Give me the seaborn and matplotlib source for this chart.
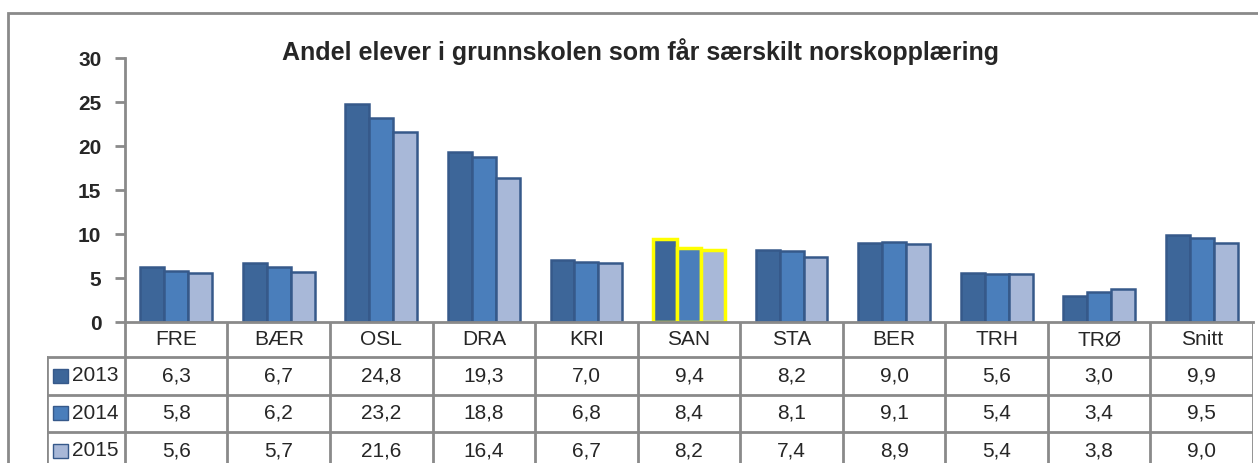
import matplotlib
matplotlib.use("Agg")
import matplotlib.pyplot as plt
from matplotlib.patches import Rectangle
from matplotlib.lines import Line2D
import seaborn as sns
import pandas as pd

kommuner = ["FRE", "BÆR", "OSL", "DRA", "KRI", "SAN", "STA", "BER", "TRH", "TRØ", "Snitt"]
aar = ["2013", "2014", "2015"]
v2013 = [6.3, 6.7, 24.8, 19.3, 7.0, 9.4, 8.2, 9.0, 5.6, 3.0, 9.9]
v2014 = [5.8, 6.2, 23.2, 18.8, 6.8, 8.4, 8.1, 9.1, 5.4, 3.4, 9.5]
v2015 = [5.6, 5.7, 21.6, 16.4, 6.7, 8.2, 7.4, 8.9, 5.4, 3.8, 9.0]
farger = ["#3D6699", "#4A7EBB", "#A8B8D8"]
kant = "#36598A"
uthevet = "SAN"

df = pd.DataFrame({
    "kommune": kommuner * 3,
    "aar": [a for a in aar for _ in kommuner],
    "andel": v2013 + v2014 + v2015,
})

sns.set_style("white")
plt.rcParams["font.family"] = ["Liberation Sans", "DejaVu Sans"]

W, H = 1258, 463
fig = plt.figure(figsize=(W / 100, H / 100), dpi=100)


def fx(px):
    return px / W


def fy(py):
    return 1 - py / H


grå = "#8A8A8A"

# ytre ramme
fig.add_artist(Rectangle((fx(8), fy(480)), fx(1300) - fx(8), fy(13) - fy(480),
                         transform=fig.transFigure, fill=False, edgecolor=grå, linewidth=2))

ax = fig.add_axes([fx(125), fy(322), fx(1253) - fx(125), fy(58) - fy(322)])
sns.barplot(data=df, x="kommune", y="andel", hue="aar", order=kommuner, hue_order=aar,
            palette=farger, saturation=1, width=0.7, edgecolor=kant, linewidth=1.8,
            legend=False, ax=ax)
ax.set_xlim(-0.5, 10.5)
ax.set_ylim(0, 30)
ax.set_yticks([0, 5, 10, 15, 20, 25, 30])
ax.set_xticks([])
ax.set_xlabel("")
ax.set_ylabel("")
for s in ["top", "right"]:
    ax.spines[s].set_visible(False)
for s in ["left", "bottom"]:
    ax.spines[s].set_color(grå)
    ax.spines[s].set_linewidth(2)
ax.tick_params(axis="y", direction="out", length=7, width=2, color=grå, pad=10,
               labelsize=15, left=True)
for t in ax.get_yticklabels():
    t.set_fontweight("bold")

i_uth = kommuner.index(uthevet)
for p in ax.patches:
    if int(round(p.get_x() + p.get_width() / 2)) == i_uth:
        p.set_edgecolor("#FFFF00")
        p.set_linewidth(2.5)

fig.text(fx(640), fy(52), "Andel elever i grunnskolen som får særskilt norskopplæring",
         ha="center", va="center", fontsize=18, fontweight="bold")

# datatabell
tab = fig.add_axes([fx(47), fy(470), fx(1253) - fx(47), fy(322) - fy(470)])
tab.set_xlim(-1.26, 10.5)
tab.set_ylim(470, 322)
tab.axis("off")
rader = [357, 395, 432, 470]
for y in rader[:3]:
    tab.add_line(Line2D([-1.26, 10.5], [y, y], color=grå, linewidth=2))
for i in range(len(kommuner) + 1):
    tab.add_line(Line2D([i - 0.5, i - 0.5], [322, 470], color=grå, linewidth=2))
tab.add_line(Line2D([-1.26, -1.26], [357, 470], color=grå, linewidth=2))

for i, k in enumerate(kommuner):
    tab.text(i, 340, k, ha="center", va="center", fontsize=15)
for r, (a, vals, f) in enumerate(zip(aar, [v2013, v2014, v2015], farger)):
    yc = (rader[r] + rader[r + 1]) / 2
    tab.add_patch(Rectangle((-1.198, yc - 7), 0.145, 14, facecolor=f, edgecolor=kant, linewidth=1))
    tab.text(-0.565, yc, a, ha="right", va="center", fontsize=15)
    for i, v in enumerate(vals):
        tab.text(i, yc, f"{v:.1f}".replace(".", ","), ha="center", va="center", fontsize=15)

fig.savefig("out.png", dpi=100)
